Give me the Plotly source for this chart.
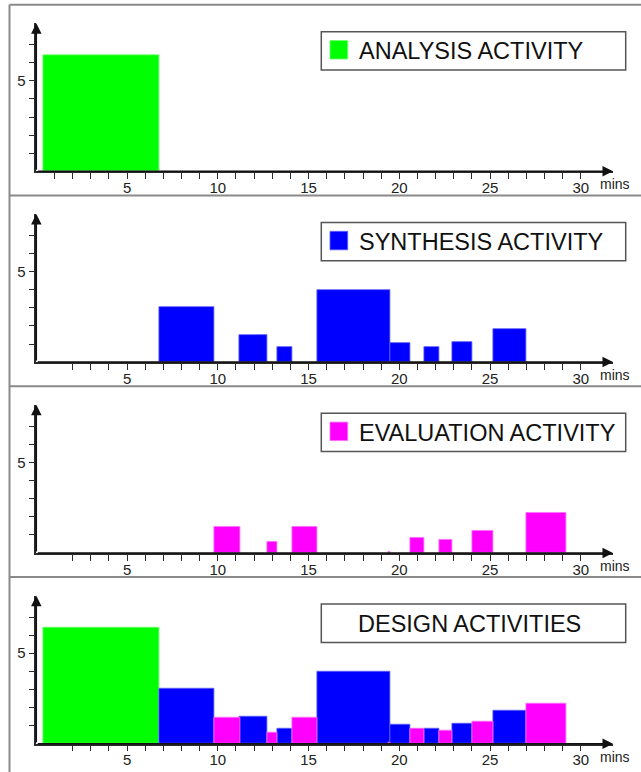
import plotly.graph_objects as go

W, H = 641, 772

# ---------------- data (minutes) ----------------
analysis_start = [0.4]
analysis_end = [6.8]
analysis_height = [6.4]

synthesis_start = [6.8, 11.2, 13.3, 15.5, 19.5, 21.4, 22.9, 25.2]
synthesis_end = [9.8, 12.7, 14.1, 19.5, 20.6, 22.2, 24.0, 27.0]
synthesis_height = [3.05, 1.47, 0.85, 4.0, 1.05, 0.81, 1.12, 1.84]

evaluation_start = [9.8, 12.7, 14.1, 19.42, 20.6, 22.2, 24.0, 27.0]
evaluation_end = [11.25, 13.3, 15.5, 19.5, 21.4, 22.9, 25.2, 29.2]
evaluation_height = [1.46, 0.59, 1.46, 0.07, 0.83, 0.72, 1.23, 2.2]

x_label_vals = [5, 10, 15, 20, 25, 30]
y_tick_vals = [1, 2, 3, 4, 5, 6, 7]
y_label_vals = [5]
panel_titles = ["ANALYSIS ACTIVITY", "SYNTHESIS ACTIVITY",
                "EVALUATION ACTIVITY", "DESIGN ACTIVITIES"]

GREEN, BLUE, MAGENTA = "#00ff00", "#0000ff", "#ff00ff"
EDGE = {GREEN: "#70ff70", BLUE: "#6060ff", MAGENTA: "#ff70ff"}
AXC = "#2a2a2a"
FONT = "Liberation Sans, Arial, sans-serif"

series = {
    "analysis": (analysis_start, analysis_end, analysis_height, GREEN),
    "synthesis": (synthesis_start, synthesis_end, synthesis_height, BLUE),
    "evaluation": (evaluation_start, evaluation_end, evaluation_height, MAGENTA),
}
panel_series = [["analysis"], ["synthesis"], ["evaluation"],
                ["analysis", "synthesis", "evaluation"]]
legend_colors = [GREEN, BLUE, MAGENTA, None]

# ---------------- geometry (pixels) ----------------
X0_PX, XTIP_PX = 36.3, 613.0
PX_PER_X = 18.15
PX_PER_Y = 18.1
BASE0 = 171.3
PANEL_STEP = 190.8
YMAX = 8.18
XMAX = (XTIP_PX - X0_PX) / PX_PER_X


def px(x):
    return x / W


def py(y):
    return 1 - y / H


fig = go.Figure()
layout_axes = {}
shapes = []
annotations = []

for i in range(4):
    n = i + 1
    xa, ya = f"x{n}" if n > 1 else "x", f"y{n}" if n > 1 else "y"
    off = i * PANEL_STEP
    base_px = BASE0 + off
    top_px = base_px - YMAX * PX_PER_Y

    for key in panel_series[i]:
        s, e, h, col = series[key]
        centers = [(a + b) / 2 for a, b in zip(s, e)]
        widths = [b - a for a, b in zip(s, e)]
        fig.add_trace(go.Bar(
            x=centers, y=h, width=widths, base=0,
            marker=dict(color=col, line=dict(color=EDGE[col], width=0.8)),
            xaxis=xa, yaxis=ya, showlegend=False, hoverinfo="skip"))

    first_tick = 1 if i == 0 else 2
    xt = list(range(first_tick, 31))
    layout_axes["xaxis" + ("" if n == 1 else str(n))] = dict(
        domain=[px(X0_PX), px(XTIP_PX)], range=[0, XMAX], anchor=ya,
        tickmode="array", tickvals=xt,
        ticktext=[str(v) if v in x_label_vals else "" for v in xt],
        ticks="outside", ticklen=6, tickwidth=1, tickcolor=AXC,
        ticklabelstandoff=-4,
        showline=True, linecolor=AXC, linewidth=1.5,
        showgrid=False, zeroline=False,
        tickfont=dict(family=FONT, size=15, color="#222"),
        fixedrange=True)
    layout_axes["yaxis" + ("" if n == 1 else str(n))] = dict(
        domain=[py(base_px), py(top_px)], range=[0, YMAX], anchor=xa,
        tickmode="array", tickvals=y_tick_vals,
        ticktext=[str(v) if v in y_label_vals else "" for v in y_tick_vals],
        ticks="outside", ticklen=6, tickwidth=1, tickcolor=AXC,
        showline=True, linecolor=AXC, linewidth=1.5,
        showgrid=False, zeroline=False,
        tickfont=dict(family=FONT, size=15, color="#222"),
        fixedrange=True)

    # axis arrowheads
    annotations.append(dict(x=XMAX, y=0, ax=0, ay=0, xref=xa, yref=ya,
                            axref=xa, ayref=ya, text="", showarrow=True,
                            arrowhead=2, arrowsize=1.4, arrowwidth=1.5,
                            arrowcolor="#111"))
    annotations.append(dict(x=0, y=YMAX, ax=0, ay=0, xref=xa, yref=ya,
                            axref=xa, ayref=ya, text="", showarrow=True,
                            arrowhead=2, arrowsize=1.4, arrowwidth=1.5,
                            arrowcolor="#111"))
    # "mins" label
    annotations.append(dict(x=px(615), y=py(184.3 + off), xref="paper",
                            yref="paper", text="mins", showarrow=False,
                            xanchor="center", yanchor="middle",
                            font=dict(family=FONT, size=14, color="#222")))

    # legend box
    shapes.append(dict(type="rect", xref="paper", yref="paper",
                       x0=px(321.3), x1=px(625.7),
                       y0=py(31.7 + off), y1=py(70 + off),
                       line=dict(color="#555", width=1.5), fillcolor="white"))
    if legend_colors[i]:
        shapes.append(dict(type="rect", xref="paper", yref="paper",
                           x0=px(330), x1=px(347.7),
                           y0=py(40.5 + off), y1=py(59 + off),
                           line=dict(color=EDGE[legend_colors[i]], width=0.8),
                           fillcolor=legend_colors[i]))
        annotations.append(dict(x=px(357), y=py(51 + off), xref="paper",
                                yref="paper", text=panel_titles[i],
                                showarrow=False, xanchor="left",
                                yanchor="middle",
                                font=dict(family=FONT, size=23.5, color="#111")))
    else:
        annotations.append(dict(x=px(469), y=py(51.5 + off), xref="paper",
                                yref="paper", text=panel_titles[i],
                                showarrow=False, xanchor="center",
                                yanchor="middle",
                                font=dict(family=FONT, size=23.5, color="#111")))

    # panel separator line (top of each panel)
    shapes.append(dict(type="line", xref="paper", yref="paper",
                       x0=px(9.5), x1=1, y0=py(4.7 + off), y1=py(4.7 + off),
                       line=dict(color="#8a8a8a", width=2)))

# left panel border
shapes.append(dict(type="line", xref="paper", yref="paper",
                   x0=px(9.5), x1=px(9.5), y0=py(4.7), y1=0,
                   line=dict(color="#8a8a8a", width=2)))

fig.update_layout(
    width=W, height=H, margin=dict(l=0, r=0, t=0, b=0),
    paper_bgcolor="white", plot_bgcolor="rgba(0,0,0,0)",
    barmode="overlay", bargap=0,
    shapes=shapes, annotations=annotations, **layout_axes)

fig.write_html("out.html", config={"displayModeBar": False},
               post_script="document.body.style.margin='0';"
                           "document.body.style.overflow='hidden';")
